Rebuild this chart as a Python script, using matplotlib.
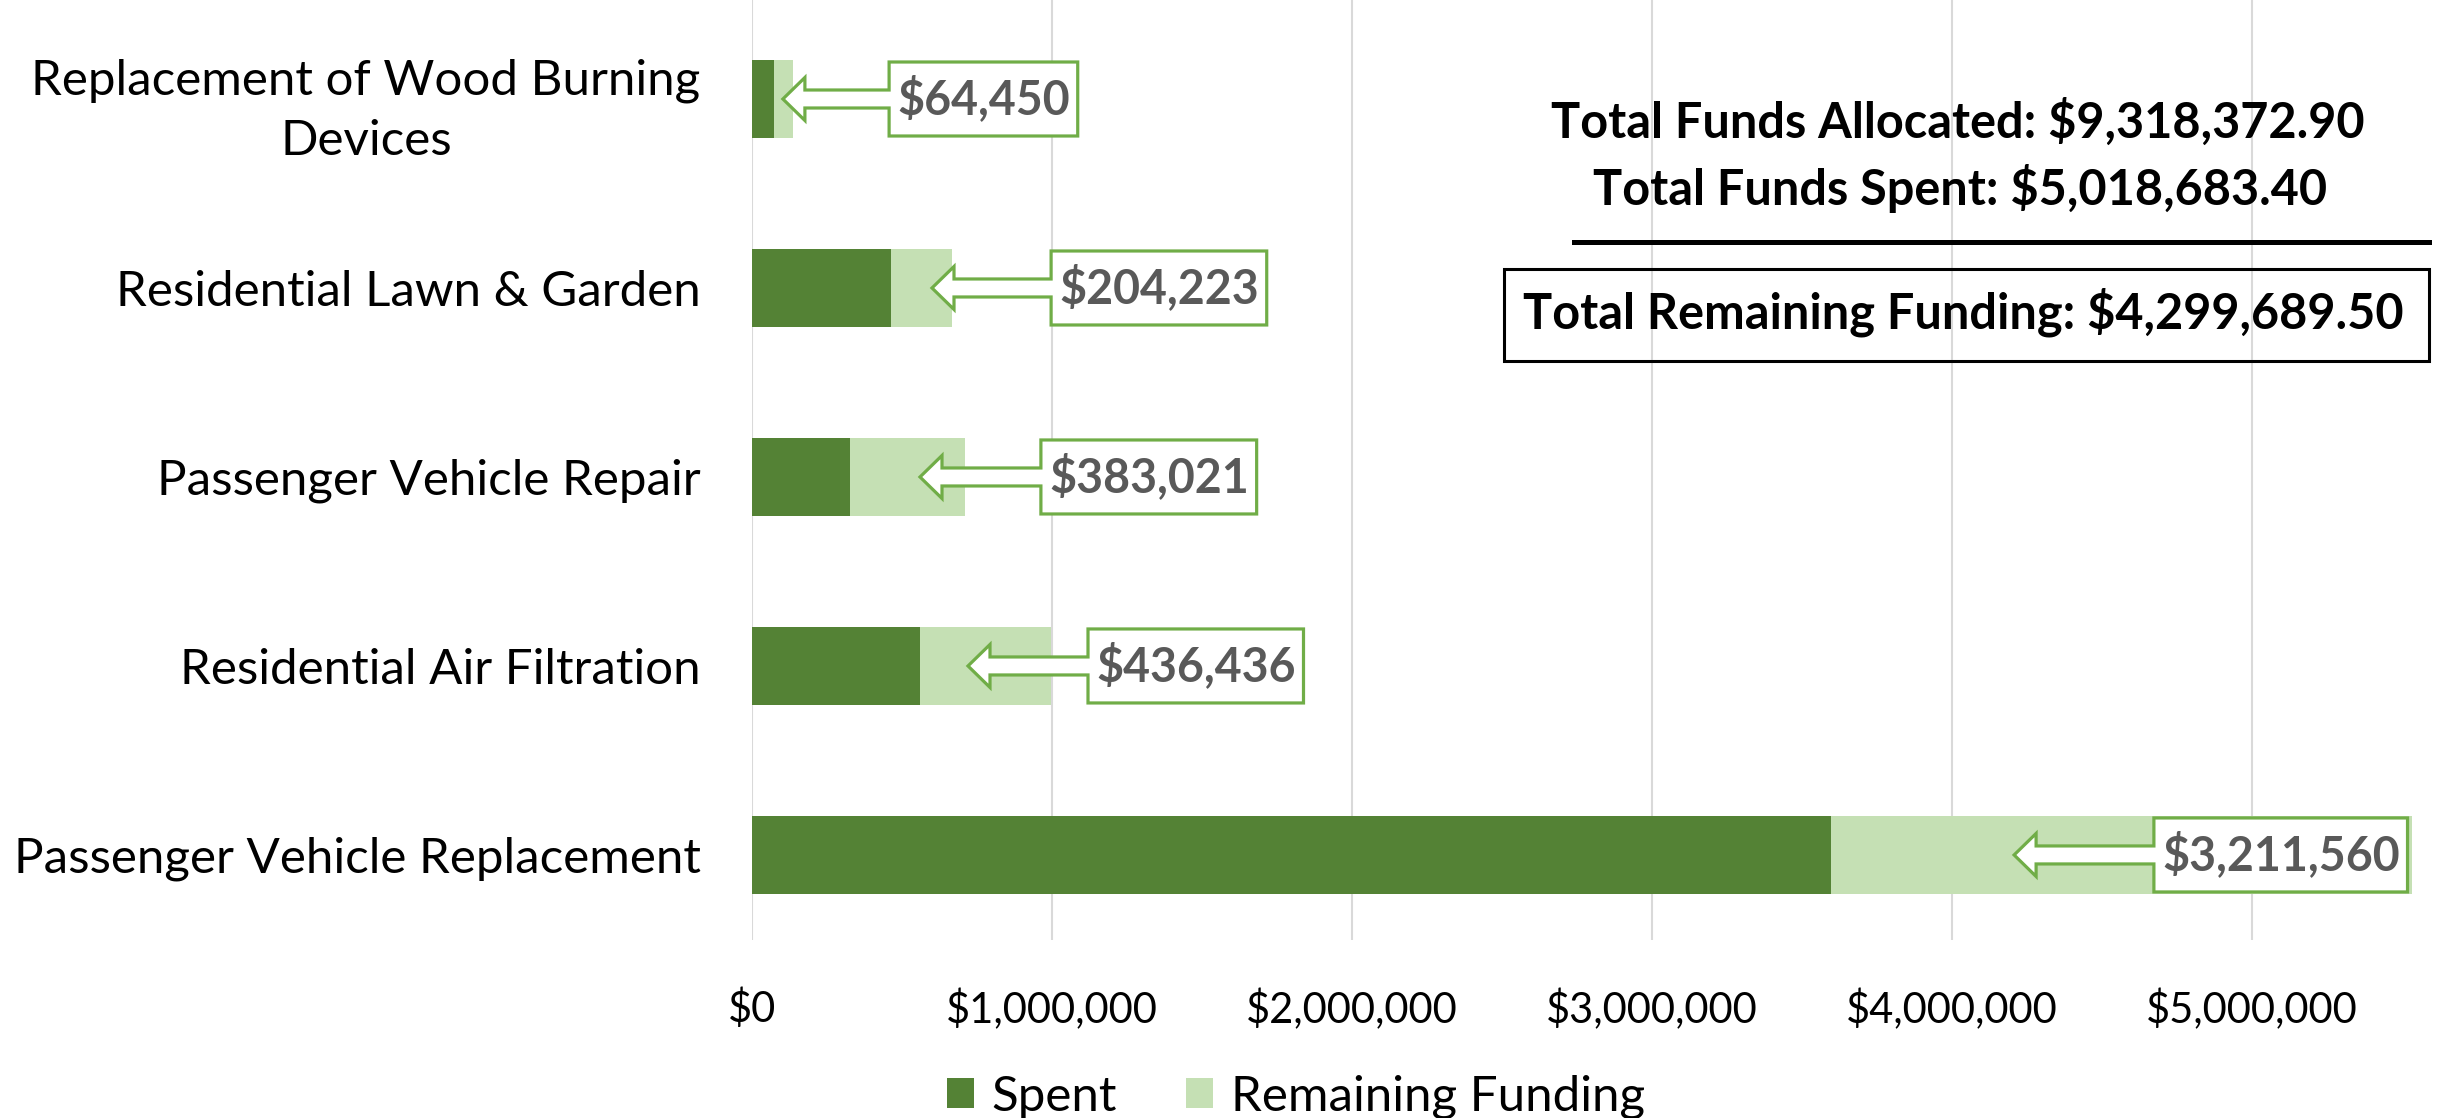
import matplotlib
matplotlib.use("Agg")
import matplotlib.pyplot as plt
import matplotlib.transforms as mtransforms
from matplotlib.patches import Polygon, Rectangle, Patch
from matplotlib.lines import Line2D
from matplotlib.ticker import FuncFormatter

# ---------------- data ----------------
categories = [
    "Passenger Vehicle Replacement",
    "Residential Air Filtration",
    "Passenger Vehicle Repair",
    "Residential Lawn & Garden",
    "Replacement of Wood Burning\nDevices",
]
spent = [3596000, 560000, 328000, 463000, 72000]
remaining = [3211560, 436436, 383021, 204223, 64450]
xticks = [0, 1000000, 2000000, 3000000, 4000000, 5000000]
legend_labels = ["Spent", "Remaining Funding"]
summary_lines = [
    "Total Funds Allocated: $9,318,372.90",
    "Total Funds Spent: $5,018,683.40",
]
summary_total = "Total Remaining Funding: $4,299,689.50"

# callout layout (x in data units): arrow tip and box left edge
callout_tip = [4.207e6, 0.72e6, 0.56e6, 0.60e6, 0.103e6]
callout_box = [4.673e6, 1.12e6, 0.963e6, 0.997e6, 0.457e6]

# ---------------- style ----------------
plt.rcParams['font.family'] = ['Lato', 'DejaVu Sans']
DARK = '#548235'
LIGHT = '#C5E0B4'
OUTLINE = '#70AD47'
LABEL = '#595959'

W, H, DPI = 2437, 1118, 100
fig = plt.figure(figsize=(W / DPI, H / DPI), dpi=DPI)
fig.patch.set_facecolor('white')

x0_px, x1_px, bottom_px = 752, 2412, 940
px_per_million = 300
ax = fig.add_axes([x0_px / W, 1 - bottom_px / H, (x1_px - x0_px) / W, bottom_px / H])
ax.set_xlim(0, (x1_px - x0_px) / px_per_million * 1e6)
ax.set_ylim(-0.45, 855 / 189)

ypos = list(range(len(categories)))
ax.barh(ypos, spent, height=0.41, color=DARK, zorder=2)
ax.barh(ypos, remaining, left=spent, height=0.41, color=LIGHT, zorder=2)

ax.set_axisbelow(True)
ax.xaxis.grid(True, color='#D9D9D9', lw=1.5, zorder=0)
ax.yaxis.grid(False)
for s in ax.spines.values():
    s.set_visible(False)

ax.set_xticks(xticks)
ax.xaxis.set_major_formatter(FuncFormatter(lambda v, p: f"${v:,.0f}"))
ax.tick_params(axis='x', length=0, pad=35, labelsize=30, labelcolor='black')
ax.set_yticks(ypos)
ax.set_yticklabels(categories)
ax.tick_params(axis='y', length=0, pad=37, labelsize=35.5, labelcolor='black')
for lab in ax.get_yticklabels():
    lab.set_multialignment('center')
    lab.set_linespacing(1.45)

# ---------------- callouts ----------------
fig.canvas.draw()
renderer = fig.canvas.get_renderer()
inv = ax.transData.inverted()
pad = 8
hh, sh, headh, headl = 37, 9, 21.5, 22
for i, y in enumerate(ypos):
    txt = f"${remaining[i]:,.0f}"
    trans = mtransforms.offset_copy(ax.transData, fig=fig, x=pad, y=0, units='dots')
    t = ax.text(callout_box[i], y, txt, transform=trans, ha='left', va='center',
                fontsize=33.5, fontweight='bold', color=LABEL, zorder=5)
    bb = t.get_window_extent(renderer)
    bx0, yc = ax.transData.transform((callout_box[i], y))
    tipx = ax.transData.transform((callout_tip[i], y))[0]
    bx1 = bb.x1 + pad
    hx = tipx + headl
    pts = [
        (bx0, yc + hh), (bx1, yc + hh), (bx1, yc - hh), (bx0, yc - hh),
        (bx0, yc - sh), (hx, yc - sh), (hx, yc - headh), (tipx, yc),
        (hx, yc + headh), (hx, yc + sh), (bx0, yc + sh),
    ]
    dpts = inv.transform(pts)
    poly = Polygon(dpts, closed=True, facecolor='white', edgecolor=OUTLINE,
                   lw=2.3, joinstyle='miter', zorder=4, clip_on=False)
    ax.add_patch(poly)

# ---------------- summary ----------------
fig.text(1958 / W, 1 - 122 / H, summary_lines[0], ha='center', va='center',
         fontsize=35, fontweight='bold', color='black')
fig.text(1960 / W, 1 - 189 / H, summary_lines[1], ha='center', va='center',
         fontsize=35, fontweight='bold', color='black')
fig.add_artist(Line2D([1574 / W, 2429 / W], [1 - 242 / H, 1 - 242 / H],
                      transform=fig.transFigure, color='black', lw=3.6))
fig.add_artist(Rectangle((1504 / W, 1 - 361 / H), 925 / W, 92 / H,
                         transform=fig.transFigure, fill=False, ec='black', lw=2.2))
fig.text(1963 / W, 1 - 312 / H, summary_total, ha='center', va='center',
         fontsize=35, fontweight='bold', color='black')

# ---------------- legend ----------------
handles = [Patch(facecolor=DARK), Patch(facecolor=LIGHT)]
fig.legend(handles, legend_labels, loc='center', bbox_to_anchor=(1296 / W, 1 - 1097 / H),
           ncol=2, frameon=False, fontsize=35.5, handlelength=0.55, handleheight=0.55,
           handletextpad=0.35, columnspacing=1.4, borderpad=0)

fig.savefig('out.png', dpi=DPI, facecolor='white')
